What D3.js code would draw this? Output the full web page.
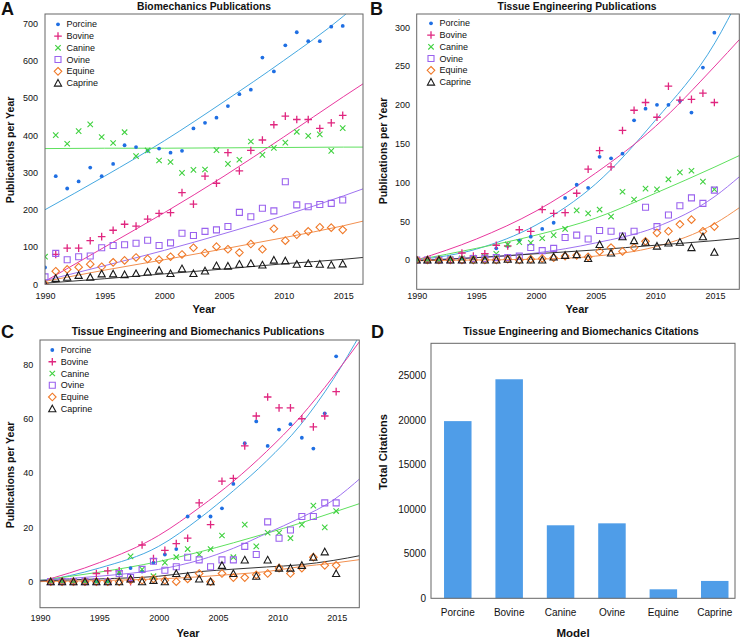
<!DOCTYPE html>
<html><head><meta charset="utf-8">
<script src="https://cdn.jsdelivr.net/npm/d3@7"></script>
<style>
body{margin:0;background:#fff;}
text{font-family:"Liberation Sans",Arial,Helvetica,sans-serif;fill:#111;}
</style>
</head><body>
<svg id="chart" width="741" height="639"></svg>
<script>
// ---------- DATA ----------
const seriesNames = ["Porcine","Bovine","Canine","Ovine","Equine","Caprine"];
const xTickYears = [1990, 1995, 2000, 2005, 2010, 2015];
// x position (year) of each yearly point (first = 1990 edge)
const pointYears = [1990, 1990.9, 1991.86, 1992.82, 1993.79, 1994.75, 1995.71, 1996.67, 1997.63, 1998.6, 1999.56,
  2000.52, 2001.48, 2002.44, 2003.41, 2004.37, 2005.33, 2006.29, 2007.25, 2008.22, 2009.18,
  2010.14, 2011.1, 2012.06, 2013.03, 2013.99, 2014.95];

// Panel A: Biomechanics publications
const bioPorcine = [45, 290, 257, 276, 313, 290, 323, 373, 368, 358, 364, 353, 358, 418, 433, 447, 478, 510, 522, 608, 571, 641, 676, 652, 652, 691, 693];
const bioBovine  = [0, 80, 97, 97, 117, 128, 145, 161, 156, 175, 190, 192, 246, 215, 290, 271, 353, 304, 359, 387, 428, 451, 442, 442, 418, 433, 453];
const bioCanine  = [74, 400, 377, 411, 429, 395, 379, 408, 344, 359, 332, 328, 299, 307, 308, 360, 323, 334, 383, 347, 366, 380, 409, 398, 402, 358, 419];
const bioOvine   = [20, 83, 66, 74, 76, 98, 104, 106, 110, 118, 104, 111, 137, 131, 142, 146, 155, 193, 181, 204, 197, 275, 213, 208, 214, 217, 226];
const bioEquine  = [0, 35, 40, 46, 54, 47, 59, 64, 72, 68, 66, 74, 80, 98, 84, 101, 94, 85, 108, 94, 149, 117, 133, 142, 153, 152, 146];
const bioCaprine = [0, 16, 19, 24, 19, 28, 28, 26, 29, 33, 38, 29, 42, 29, 36, 50, 49, 54, 56, 52, 65, 63, 54, 56, 54, 52, 55];
const bioFitYears = [1990, 1995, 2000, 2005, 2010, 2015, 2017];
const bioFitPorcine = [200, 290, 385, 490, 600, 719, 775];
const bioFitBovine  = [8, 100, 192, 290, 395, 503, 545];
const bioFitCanine  = [364, 365, 365, 366, 367, 368, 368];
const bioFitOvine   = [10, 50, 91, 136, 184, 237, 260];
const bioFitEquine  = [8, 38, 66, 95, 125, 157, 172];
const bioFitCaprine = [3, 15, 28, 41, 55, 67, 73];

// Panel B: Tissue engineering publications
const tePorcine = [0, 0, 0, 1, 2, 2, 3, 15, 18, 25, 30, 40, 48, 80, 97, 93, 133, 131, 137, 180, 195, 200, 200, 205, 190, 248, 293];
const teBovine  = [0, 0, 0, 0, 9, 5, 8, 19, 18, 39, 37, 65, 60, 61, 86, 117, 141, 120, 167, 193, 203, 184, 224, 206, 207, 215, 203];
const teCanine  = [0, 0, 0, 1, 2, 3, 4, 8, 20, 23, 22, 28, 32, 40, 64, 60, 65, 56, 88, 78, 92, 91, 104, 113, 115, 101, 91];
const teOvine   = [0, 0, 0, 0, 0, 2, 2, 3, 3, 5, 16, 12, 15, 29, 32, 27, 38, 37, 31, 37, 68, 43, 58, 70, 80, 73, 90];
const teEquine  = [0, 0, 0, 0, 0, 0, 0, 0, 1, 0, 1, 2, 3, 5, 6, 4, 11, 16, 11, 16, 24, 35, 37, 46, 52, 37, 43];
const teCaprine = [0, 0, 0, 0, 0, 0, 0, 0, 1, 0, 0, 0, 4, 6, 7, 2, 20, 9, 30, 25, 23, 18, 22, 23, 16, 30, 10];
const teFitYears = [1990, 1995, 2000, 2005, 2010, 2015, 2017.1];
const teFitPorcine = [0, 14, 45, 98, 180, 280, 340];
const teFitBovine  = [0, 27, 63, 112, 172, 250, 285];
const teFitCanine  = [0, 15, 32, 54, 86, 120, 135];
const teFitOvine   = [0, 3, 9, 22, 42, 82, 108];
const teFitEquine  = [-1, 0, 1, 5, 17, 47, 68];
const teFitCaprine = [-1, 3, 8, 13, 19, 25, 28];

// Panel C: Tissue engineering and biomechanics publications
const bothPorcine = [null, 0, 0, 0, 0, 0, 0, 3, 5, 3.7, 7, 10, 12, 24, 24, 24, 27, 36, 51, 59, 50, 56, 58, 53, 49, 62, 83];
const bothBovine  = [null, 0, 0, 0, 0, 3, 4, 4, 0, 13.5, 8.5, 11.5, 14, 16, 29, 21, 37, 38, 50, 61, 68, 64, 64, 60, 57, 61, 70];
const bothCanine  = [null, 0, 0, 0, 0, 0, 0, 3.5, 9.3, 4.5, 2, 7, 9, 12, 10, 12, 17, 9, 21, 13, 18, 18, 16, 21, 28, 20, 26];
const bothOvine   = [null, 0, 0, 0, 0, 0, 0, 3, 1.5, 4.5, 7.5, 4.2, 5.5, 9, 8, 5.5, 8, 8, 13, 10, 22, 16, 19, 24, 24, 29, 29];
const bothEquine  = [null, 0, 0, 0, 0, 0, 0, 0, 0.5, 0.5, 1, 0.5, 0, 1, 3, 0, 3, 1.5, 1.5, 2.5, 3, 5, 3, 5, 9, 6, 6];
const bothCaprine = [null, 0, 0, 0, 0, 0, 0, 0, 1, 0, 0.5, 0, 3, 2, 1, 0, 6, 3, 8, 2, 8, 5, 5, 6, 9, 11, 3];
const bothFitYears = [1990, 1995, 2000, 2003.5, 2006.3, 2009.1, 2011.9, 2014.7, 2017.1];
const bothFitPorcine = [0, 5, 13, 23.5, 33.5, 44.5, 57.5, 74.5, 92];
const bothFitBovine  = [0, 7, 17, 27.5, 37, 48, 60.5, 75.5, 89.5];
const bothFitCanine  = [0.5, 3.5, 7.4, 11, 14.3, 17.8, 21.5, 25.5, 29];
const bothFitOvine   = [0.5, 2, 4.5, 8, 12.3, 17.8, 23.4, 30, 38.5];
const bothFitEquine  = [0, 0.4, 1, 1.8, 2.7, 3.7, 5.5, 6.8, 8.2];
const bothFitCaprine = [0.3, 1, 2, 3.7, 4.6, 5.4, 6.2, 7.8, 9.7];

// Panel D: citations
const citationModels = ["Porcine","Bovine","Canine","Ovine","Equine","Caprine"];
const citationTotals = [19900, 24600, 8200, 8420, 1010, 1950];
const citationTicks = [0, 5000, 10000, 15000, 20000, 25000];

// ---------- STYLE ----------
const markerColor = {Porcine:"#1f6fe3", Bovine:"#e0267f", Canine:"#3fd13f", Ovine:"#9a62ee", Equine:"#f07a2a", Caprine:"#1a1a1a"};
const lineColor   = {Porcine:"#45a8e0", Bovine:"#e8389e", Canine:"#5ee05e", Ovine:"#9e72f0", Equine:"#f29050", Caprine:"#333333"};
const markerPath = {
  Bovine:  s => { s = 3.8; return `M${-s},0H${s}M0,${-s}V${s}`; },
  Canine:  s => { s = 2.7; return `M${-s},${-s}L${s},${s}M${-s},${s}L${s},${-s}`; },
  Ovine:   s => { s = 3; return `M${-s},${-s}h${2*s}v${2*s}h${-2*s}Z`; },
  Equine:  s => { s = 3.8; return `M0,${-s}L${s},0L0,${s}L${-s},0Z`; },
  Caprine: s => { s = 3.6; return `M0,${-s}L${s},${s*0.85}L${-s},${s*0.85}Z`; }
};

const svg = d3.select("#chart");
let clipId = 0;

function drawMarker(g, name, cx, cy) {
  if (name === "Porcine") {
    g.append("circle").attr("cx", cx).attr("cy", cy).attr("r", 1.9).attr("fill", markerColor[name]);
  } else {
    g.append("path").attr("transform", `translate(${cx},${cy})`).attr("d", markerPath[name]())
      .attr("fill", "none").attr("stroke", markerColor[name])
      .attr("stroke-width", name === "Caprine" ? 1.1 : (name === "Bovine" ? 1.3 : 1.1));
  }
}

function styleAxis(g, size) {
  g.select(".domain").remove();
  g.selectAll("text").attr("font-size", size).attr("fill", "#111")
    .attr("font-family", '"Liberation Sans",Arial,Helvetica,sans-serif');
}

function scatterPanel(cfg) {
  const x = d3.scaleLinear().domain(cfg.xDomain).range([cfg.left, cfg.right]);
  const y = d3.scaleLinear().domain(cfg.yDomain).range([cfg.bottom, cfg.top]);
  const id = "clip" + (clipId++);
  svg.append("clipPath").attr("id", id).append("rect")
    .attr("x", cfg.left).attr("y", cfg.top)
    .attr("width", cfg.right - cfg.left).attr("height", cfg.bottom - cfg.top);

  const ya = svg.append("g").attr("transform", `translate(${cfg.left},0)`)
    .call(d3.axisLeft(y).tickValues(cfg.yTicks).tickSize(0).tickPadding(cfg.yPad).tickFormat(d3.format("d")));
  styleAxis(ya, 9);
  const xa = svg.append("g").attr("transform", `translate(0,${cfg.bottom})`)
    .call(d3.axisBottom(x).tickValues(xTickYears).tickSize(0).tickPadding(cfg.xPad).tickFormat(d3.format("d")));
  styleAxis(xa, 9);

  const plot = svg.append("g").attr("clip-path", `url(#${id})`);
  const line = d3.line().curve(d3.curveMonotoneX);
  cfg.series.forEach(s => {
    plot.append("path")
      .attr("d", line(cfg.fitYears.map((t, i) => [x(t), y(s.fit[i])])))
      .attr("fill", "none").attr("stroke", lineColor[s.name]).attr("stroke-width", 1);
  });
  cfg.series.forEach(s => {
    s.values.forEach((v, i) => {
      if (v === null) return;
      drawMarker(plot, s.name, x(pointYears[i]), y(v));
    });
  });

  svg.append("rect").attr("x", cfg.left).attr("y", cfg.top)
    .attr("width", cfg.right - cfg.left).attr("height", cfg.bottom - cfg.top)
    .attr("fill", "none").attr("stroke", "#666").attr("stroke-width", 1);

  // legend
  seriesNames.forEach((n, i) => {
    const ly = cfg.legendY + i * 11.75;
    drawMarker(svg, n, cfg.legendX, ly);
    svg.append("text").attr("x", cfg.legendX + 8.5).attr("y", ly).attr("dy", "0.35em")
      .attr("font-size", 9).text(n);
  });

  // titles
  svg.append("text").attr("x", cfg.titleX).attr("y", cfg.titleY).attr("text-anchor", "middle")
    .attr("font-size", 10.3).attr("font-weight", "bold").text(cfg.title);
  svg.append("text").attr("x", cfg.letterX).attr("y", cfg.letterY)
    .attr("font-size", 18).attr("font-weight", "bold").text(cfg.letter);
  svg.append("text").attr("transform", `translate(${cfg.yTitleX},${cfg.yTitleY}) rotate(-90)`)
    .attr("text-anchor", "middle").attr("font-size", 10.5).attr("font-weight", "bold").text("Publications per Year");
  svg.append("text").attr("x", cfg.xTitleX).attr("y", cfg.xTitleY).attr("text-anchor", "middle")
    .attr("font-size", 11).attr("font-weight", "bold").text("Year");
}

scatterPanel({
  left: 45, right: 363, top: 14, bottom: 284.3,
  xDomain: [1990, 2016.65], yDomain: [0, 725], yTicks: [0,100,200,300,400,500,600,700],
  yPad: 7, xPad: 8.5,
  fitYears: bioFitYears,
  series: [
    {name:"Porcine", values: bioPorcine, fit: bioFitPorcine},
    {name:"Bovine", values: bioBovine, fit: bioFitBovine},
    {name:"Canine", values: bioCanine, fit: bioFitCanine},
    {name:"Ovine", values: bioOvine, fit: bioFitOvine},
    {name:"Equine", values: bioEquine, fit: bioFitEquine},
    {name:"Caprine", values: bioCaprine, fit: bioFitCaprine}
  ],
  legendX: 58, legendY: 24.3,
  title: "Biomechanics Publications", titleX: 204, titleY: 10,
  letter: "A", letterX: 1, letterY: 15,
  yTitleX: 14, yTitleY: 150, xTitleX: 204, xTitleY: 313
});

scatterPanel({
  left: 416.7, right: 739.3, top: 14, bottom: 289.3,
  xDomain: [1990, 2017.04], yDomain: [-37.8, 317.1], yTicks: [0,50,100,150,200,250,300],
  yPad: 6.7, xPad: 3.5,
  fitYears: teFitYears,
  series: [
    {name:"Porcine", values: tePorcine, fit: teFitPorcine},
    {name:"Bovine", values: teBovine, fit: teFitBovine},
    {name:"Canine", values: teCanine, fit: teFitCanine},
    {name:"Ovine", values: teOvine, fit: teFitOvine},
    {name:"Equine", values: teEquine, fit: teFitEquine},
    {name:"Caprine", values: teCaprine, fit: teFitCaprine}
  ],
  legendX: 431, legendY: 23.3,
  title: "Tissue Engineering Publications", titleX: 577, titleY: 10,
  letter: "B", letterX: 370, letterY: 15,
  yTitleX: 387, yTitleY: 151, xTitleX: 577, xTitleY: 313
});

scatterPanel({
  left: 40, right: 359.3, top: 340, bottom: 607.7,
  xDomain: [1990, 2016.9], yDomain: [-9.6, 89], yTicks: [0,20,40,60,80],
  yPad: 6.7, xPad: 7.4,
  fitYears: bothFitYears,
  series: [
    {name:"Porcine", values: bothPorcine, fit: bothFitPorcine},
    {name:"Bovine", values: bothBovine, fit: bothFitBovine},
    {name:"Canine", values: bothCanine, fit: bothFitCanine},
    {name:"Ovine", values: bothOvine, fit: bothFitOvine},
    {name:"Equine", values: bothEquine, fit: bothFitEquine},
    {name:"Caprine", values: bothCaprine, fit: bothFitCaprine}
  ],
  legendX: 52.3, legendY: 350,
  title: "Tissue Engineering and Biomechanics Publications", titleX: 198, titleY: 334.5,
  letter: "C", letterX: 1, letterY: 338,
  yTitleX: 14, yTitleY: 475, xTitleX: 188, xTitleY: 637
});

// ---------- Panel D ----------
(function(){
  const left = 431, right = 735, top = 343.3, bottom = 598.3;
  const x = d3.scaleBand().domain(citationModels).range([left, right])
    .paddingInner(0.465).paddingOuter(0.19).align(0.667);
  const y = d3.scaleLinear().domain([0, 28640]).range([bottom, top]);
  svg.selectAll(".bar").data(citationModels).enter().append("rect")
    .attr("x", d => x(d)).attr("width", x.bandwidth())
    .attr("y", (d, i) => y(citationTotals[i]))
    .attr("height", (d, i) => y(0) - y(citationTotals[i]))
    .attr("fill", "#4f9de8");
  const ya = svg.append("g").attr("transform", `translate(${left},0)`)
    .call(d3.axisLeft(y).tickValues(citationTicks).tickSize(0).tickPadding(5).tickFormat(d3.format("d")));
  styleAxis(ya, 10);
  const xa = svg.append("g").attr("transform", `translate(0,${bottom})`)
    .call(d3.axisBottom(x).tickSize(0).tickPadding(11));
  styleAxis(xa, 10);
  svg.append("rect").attr("x", left).attr("y", top).attr("width", right - left).attr("height", bottom - top)
    .attr("fill", "none").attr("stroke", "#666").attr("stroke-width", 1);
  svg.append("text").attr("x", 581).attr("y", 334.5).attr("text-anchor", "middle")
    .attr("font-size", 10.3).attr("font-weight", "bold").text("Tissue Engineering and Biomechanics Citations");
  svg.append("text").attr("x", 371).attr("y", 338).attr("font-size", 18).attr("font-weight", "bold").text("D");
  svg.append("text").attr("transform", "translate(387,452) rotate(-90)").attr("text-anchor", "middle")
    .attr("font-size", 11).attr("font-weight", "bold").text("Total Citations");
  svg.append("text").attr("x", 573).attr("y", 637).attr("text-anchor", "middle")
    .attr("font-size", 11.5).attr("font-weight", "bold").text("Model");
})();
</script>
</body></html>
